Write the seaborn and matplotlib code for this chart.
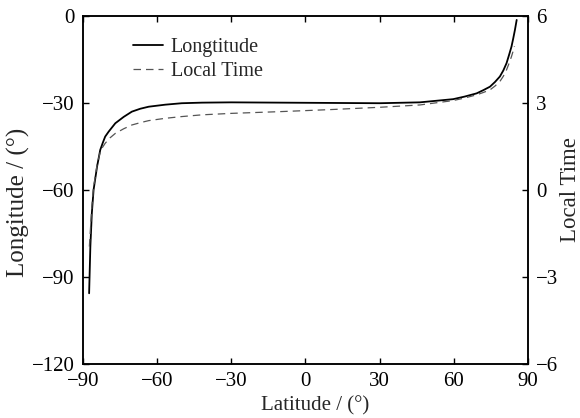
import matplotlib
matplotlib.use("Agg")
import matplotlib.pyplot as plt
import seaborn as sns
import pandas as pd

# Longitude curve (solid, left axis)
lat_lon = [-87.5, -87.0, -86.4, -85.7, -85.0, -84.3, -83.0, -82.0, -81.0, -79.6,
           -76.9, -73.5, -70.2, -66.8, -63.4, -56.7, -50.0, -41.8, -30.0, -10.0,
           10.0, 30.0, 46.3, 59.8, 64.5, 69.3, 72.0, 74.7, 76.7, 78.7,
           80.1, 81.4, 82.4, 83.4, 84.1, 84.8, 85.5]
lon_vals = [-95.6, -79.5, -68.0, -60.0, -56.0, -52.0, -46.2, -43.8, -41.6, -39.9,
            -37.0, -34.8, -33.0, -32.0, -31.3, -30.6, -30.1, -29.9, -29.8, -29.9,
            -30.0, -30.1, -29.8, -28.7, -27.8, -26.7, -25.6, -24.4, -22.8, -20.9,
            -18.8, -16.3, -13.5, -10.6, -7.8, -4.8, -1.4]

# Local time curve (dashed, right axis, hours)
lat_lt = [-87.4, -86.4, -85.7, -84.3, -83.0, -82.0, -81.0, -79.0, -76.9, -73.5,
          -70.2, -66.8, -63.4, -56.7, -50.0, -41.8, -30.0, -10.3, 10.0, 30.1,
          46.3, 59.7, 64.5, 69.3, 72.0, 74.7, 76.7, 78.7, 80.1, 81.4,
          82.4, 83.4, 83.9, 84.6]
lt_vals = [-1.95, -0.57, 0.10, 0.85, 1.32, 1.48, 1.61, 1.80, 1.95, 2.11,
           2.24, 2.32, 2.39, 2.47, 2.53, 2.59, 2.64, 2.70, 2.77, 2.85,
           2.93, 3.08, 3.17, 3.28, 3.36, 3.45, 3.58, 3.74, 3.92, 4.14,
           4.36, 4.60, 4.74, 4.95]

x_ticks = [-90, -60, -30, 0, 30, 60, 90]
left_ticks = [-120, -90, -60, -30, 0]
right_ticks = [-6, -3, 0, 3, 6]

sns.set_style("ticks")
plt.rcParams['font.family'] = ['Liberation Serif', 'DejaVu Serif']
plt.rcParams['xtick.direction'] = 'in'
plt.rcParams['ytick.direction'] = 'in'

fig = plt.figure(figsize=(5.8, 4.18), dpi=100)
ax = fig.add_axes([0.143, 0.129, 0.767, 0.833])
ax2 = ax.twinx()

df1 = pd.DataFrame({"lat": lat_lon, "lon": lon_vals})
df2 = pd.DataFrame({"lat": lat_lt, "lt": lt_vals})

sns.lineplot(data=df1, x="lat", y="lon", ax=ax, color="black", linewidth=1.3,
             estimator=None, sort=False)
sns.lineplot(data=df2, x="lat", y="lt", ax=ax2, color="#555555", linewidth=0.9,
             estimator=None, sort=False)
ax2.lines[0].set_dashes([6, 4])

def fmt(v):
    return str(v).replace('-', '\u2212')

ax.set_xlim(-90, 90)
ax.set_ylim(-120, 0)
ax2.set_ylim(-6, 6)
ax.set_xticks(x_ticks)
ax.set_xticklabels([fmt(t) for t in x_ticks])
ax.set_yticks(left_ticks)
ax.set_yticklabels([fmt(t) for t in left_ticks])
ax2.set_yticks(right_ticks)
ax2.set_yticklabels([fmt(t) for t in right_ticks])

ax.tick_params(axis='x', which='both', direction='in', length=4, width=1,
               labelsize=15, top=True, pad=6, color='black', labelcolor='black')
ax.tick_params(axis='y', which='both', direction='in', length=4, width=1,
               labelsize=15, right=False, pad=6, color='black', labelcolor='black')
ax2.tick_params(axis='y', direction='in', length=4, width=1, labelsize=15,
                pad=6, color='black', labelcolor='black')

for a in (ax, ax2):
    for s in a.spines.values():
        s.set_visible(True)
        s.set_color('black')
        s.set_linewidth(1.1)

ax.set_xlabel("")
ax.set_ylabel("")
ax2.set_ylabel("")
fig.text(315 / 580, 1 - 406 / 418, "Latitude / (°)", fontsize=15,
         ha='center', va='center')
fig.text(18 / 580, 1 - 202 / 418, "Longitude / (°)", fontsize=18,
         rotation=90, ha='center', va='center')
fig.text(571 / 580, 1 - 190 / 418, "Local Time", fontsize=16.5,
         rotation=90, ha='center', va='center')

h1 = ax.lines[0]
h2 = ax2.lines[0]
ax.legend([h1, h2], ["Longtitude", "Local Time"], loc="upper left",
          bbox_to_anchor=(0.095, 0.96), frameon=False, fontsize=14.5,
          handlelength=1.5, handletextpad=0.35, labelspacing=0.25,
          borderaxespad=0.0)

fig.savefig("out.png", dpi=100)
